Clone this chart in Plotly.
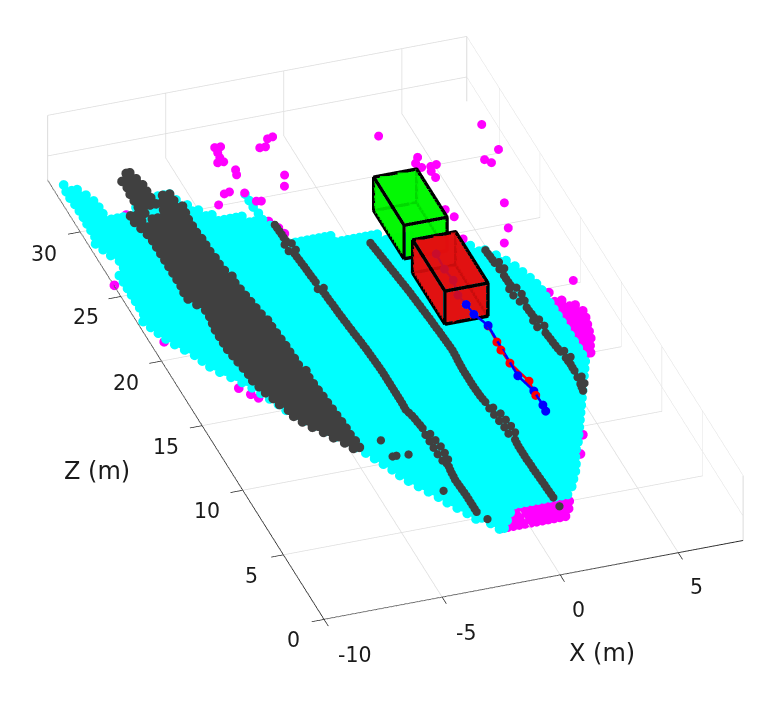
import numpy as np
import plotly.graph_objects as go

# axis limits (metres)
X_LIM = [-10.0, 7.75]
Z_LIM = [0.0, 34.0]
H_LIM = [-1.2, 2.0]
X_TICKS = [-10, -5, 0, 5]
Z_TICKS = [0, 5, 10, 15, 20, 25, 30]
H_TICKS = [0, 2]
FLOOR = -1.2

# ground cells: (Z row, [(X from, X to), ...])
CYAN_RUNS = [
 (4,[(-1.2,-1.0)]),(4.5,[(-1.4,-.7)]),(5,[(-1.85,-.4)]),(5.5,[(-2.05,2.2)]),(6,[(-2.3,2.55)]),(6.5,[(-2.55,2.8)]),
 (7,[(-2.75,3.05)]),(7.5,[(-3,3.25)]),(8,[(-3.25,3.4)]),(8.5,[(-3.5,3.6)]),(9,[(-3.7,3.85)]),(9.5,[(-3.85,4.05)]),
 (10,[(-4.05,4.25)]),(10.5,[(-4.25,4.45)]),(11,[(-4.45,4.65)]),(11.5,[(-4.7,4.85)]),(12,[(-4.95,5.05)]),(12.5,[(-5.2,5.25)]),
 (13,[(-5.5,5.45)]),(13.5,[(-5.8,5.65)]),(14,[(-6.05,5.85)]),(14.5,[(-6.25,6.05)]),(15,[(-6.45,6.1)]),(15.5,[(-6.6,6.1)]),
 (16,[(-6.8,6.1)]),(16.5,[(-7,6.1)]),(17,[(-7.2,6.1)]),(17.5,[(-7.45,6.1)]),(18,[(-7.75,6.1)]),(18.5,[(-8.05,6.1)]),
 (19,[(-8.3,6.1)]),(19.5,[(-8.45,6.1)]),(20,[(-8.6,6.1)]),(20.5,[(-8.85,6.05)]),(21,[(-9.1,5.95)]),(21.5,[(-9.3,5.8)]),
 (22,[(-9.45,5.65)]),(22.5,[(-9.6,5.45)]),(23,[(-9.75,5.2)]),(23.5,[(-9.8,4.9)]),(24,[(-9.8,4.45)]),(24.5,[(-9.8,3.9)]),
 (25,[(-9.8,3.2)]),(25.5,[(-9.8,2.4)]),(26,[(-9.8,1.2)]),(26.5,[(-9.8,-.6)]),(27,[(-9.2,-2.5)]),(27.5,[(-9.2,-2.6)]),
 (28,[(-9.4,-2.65)]),(28.5,[(-9.8,-3.1),(-2.8,-2.8)]),(29,[(-9.7,-3.5),(-2.8,-2.8)]),(29.5,[(-9.8,-4.6),(-2.85,-2.85)]),
 (30,[(-9.8,-5),(-2.85,-2.85)]),(30.5,[(-9.8,-8),(-7.7,-5.3),(-2.85,-2.85)]),(31,[(-9.8,-8.7),(-7.3,-5.6)]),
 (31.5,[(-9.8,-8.7),(-6.2,-5.7)]),(32,[(-9.8,-8.75)]),(32.5,[(-9.8,-8.9)]),(33,[(-9.8,-9.1)]),(33.5,[(-9.8,-9.5)]),
]
DARK_RUNS = [
 (11.5,[(-4.8,-4.55)]),(12,[(-5,-4.55)]),(12.5,[(-5.3,-4.6)]),(13,[(-5.55,-4.6)]),(13.5,[(-5.85,-4.62)]),(14,[(-6.1,-4.65)]),
 (14.5,[(-6.3,-4.67)]),(15,[(-6.35,-4.7)]),(15.5,[(-6.55,-4.72)]),(16,[(-6.65,-4.75)]),(16.5,[(-6.8,-4.78)]),(17,[(-6.9,-4.8)]),
 (17.5,[(-7,-4.75)]),(18,[(-7,-4.9)]),(18.5,[(-7.05,-4.9)]),(19,[(-7.1,-4.92)]),(19.5,[(-7.15,-4.92)]),(20,[(-7.2,-4.95)]),
 (20.5,[(-7.2,-4.97)]),(21,[(-7.2,-5)]),(21.5,[(-7.2,-5)]),(22,[(-7.15,-5.1)]),(22.5,[(-7.1,-5.15)]),(23,[(-7.1,-5.2)]),
 (23.5,[(-7.3,-6.6),(-6.3,-5.25)]),(24,[(-7.5,-5.3)]),(24.5,[(-7.5,-5.35)]),(25,[(-7.45,-6.4),(-6.1,-5.3)]),(25.5,[(-7.45,-5.45)]),
 (26,[(-7.45,-5.5)]),(26.5,[(-7.45,-5.5)]),(27,[(-7.45,-5.55)]),(27.5,[(-7.45,-5.55)]),(28,[(-7.45,-5.55)]),(28.5,[(-7.45,-5.6)]),
 (29,[(-7.5,-5.6)]),(29.5,[(-7.6,-7.3),(-7,-5.6)]),(30,[(-7.7,-7.4),(-6.95,-5.55)]),(30.5,[(-7.7,-7.1),(-6.3,-5.5)]),
 (31,[(-7.2,-5.7)]),(31.5,[(-7.2,-6.5),(-6,-5.7)]),(32,[(-7.2,-6.5)]),(32.5,[(-7.15,-6.5)]),(33,[(-7.2,-6.6)]),(33.5,[(-6.85,-6.7)]),
]
LANE_RUNS = [
 # lane A
 (28,[(-2.45,-2.45)]),(27.5,[(-2.43,-2.43)]),(27,[(-2.42,-2.42)]),(26.5,[(-2.55,-2.25)]),(26,[(-2.55,-2.25)]),(25.5,[(-2.38,-2.38)]),
 (25,[(-2.35,-2.35)]),(24.5,[(-2.32,-2.32)]),(24,[(-2.3,-2.3)]),(23.5,[(-2.27,-2.27)]),(23,[(-2.35,-2.1)]),(22.5,[(-2.2,-2.2)]),
 (22,[(-2.18,-2.18)]),(21.5,[(-2.15,-2.15)]),(21,[(-2.13,-2.13)]),(20.5,[(-2.1,-2.1)]),(20,[(-2.07,-2.07)]),(19.5,[(-2.04,-2.04)]),
 (19,[(-2,-2)]),(18.5,[(-1.97,-1.97)]),(18,[(-1.94,-1.94)]),(17.5,[(-1.92,-1.92)]),(17,[(-1.9,-1.9)]),(16.5,[(-1.88,-1.88)]),
 (16,[(-1.88,-1.88)]),(15.5,[(-1.88,-1.88)]),(15,[(-1.88,-1.88)]),(14.5,[(-1.88,-1.88)]),(14,[(-1.88,-1.88)]),(13.5,[(-1.9,-1.9)]),
 (13,[(-1.8,-1.8)]),(12.5,[(-1.75,-1.75)]),(12,[(-1.7,-1.7)]),(11.5,[(-1.75,-1.55)]),(11,[(-1.75,-1.5)]),(10.5,[(-1.75,-1.45)]),
 (10,[(-1.75,-1.45)]),(9.5,[(-1.72,-1.48)]),(9,[(-1.62,-1.62)]),(8.5,[(-1.67,-1.67)]),(8,[(-1.7,-1.7)]),(7.5,[(-1.68,-1.68)]),
 (7,[(-1.66,-1.66)]),(6.5,[(-1.65,-1.65)]),(6,[(-1.65,-1.65)]),(5.5,[(-1.65,-1.65)]),(4.86,[(-1.41,-1.41)]),
 # lane B
 (25.5,[(.74,.74)]),(25,[(.78,.78)]),(24.5,[(.82,.82)]),(24,[(.86,.86)]),(23.5,[(.9,.9)]),(23,[(.94,.94)]),(22.5,[(.98,.98)]),
 (22,[(1.02,1.02)]),(21.5,[(1.06,1.06)]),(21,[(1.09,1.09)]),(20.5,[(1.12,1.12)]),(20,[(1.15,1.15)]),(19.5,[(1.18,1.18)]),
 (19,[(1.2,1.2)]),(18.5,[(1.23,1.23)]),(18,[(1.25,1.25)]),(17.5,[(1.27,1.27)]),(17,[(1.29,1.29)]),(16.5,[(1.27,1.27)]),
 (16,[(1.24,1.24)]),(15.5,[(1.22,1.22)]),(15,[(1.22,1.22)]),(14.5,[(1.22,1.22)]),(14,[(1.23,1.23)]),(13.5,[(1.25,1.25)]),
 (13,[(1.3,1.3)]),(12.5,[(1.3,1.46)]),(12,[(1.33,1.6)]),(11.5,[(1.37,1.65)]),(11,[(1.42,1.7)]),(10.5,[(1.42,1.7)]),(10,[(1.53,1.53)]),
 (9.5,[(1.5,1.5)]),(9,[(1.5,1.5)]),(8.5,[(1.5,1.5)]),(8,[(1.52,1.52)]),(7.5,[(1.53,1.53)]),(7,[(1.55,1.55)]),(6.5,[(1.57,1.57)]),
 (6,[(1.58,1.58)]),(5.5,[(1.6,1.6)]),(4.81,[(1.62,1.62)]),
 # lane C
 (23.5,[(4.92,4.92)]),(23,[(4.95,4.95)]),(22.5,[(4.97,5.15)]),(22,[(5,5.2)]),(21.5,[(5.02,5.02)]),(21,[(5.03,5.03)]),(20.5,[(4.9,5.2)]),
 (20,[(4.9,5.25)]),(19.5,[(5,5.2)]),(19,[(5.12,5.12)]),(18.5,[(5.15,5.15)]),(18,[(5.05,5.3)]),(17.5,[(5.05,5.35)]),(17,[(5.23,5.23)]),
 (16.5,[(5.27,5.27)]),(16,[(5.3,5.3)]),(15.5,[(5.35,5.5)]),(15,[(5.4,5.6)]),(14.5,[(5.43,5.43)]),(14,[(5.42,5.42)]),(13.5,[(5.38,5.55)]),
 (13,[(5.33,5.5)]),(12.5,[(5.27,5.27)]),
 # isolated returns
 (11.7,[(-3.57,-3.57)]),(10.43,[(-3.51,-3.35)]),(10.36,[(-2.86,-2.86)]),(7.39,[(-2.4,-2.4)]),
]
# further lane returns lying between those rows
LANE_MID_Z = [27.75,27.25,26.75,25.75,25.25,24.75,24.25,23.75,22.75,22.25,21.75,21.25,20.75,20.25,19.75,19.25,18.75,18.25,17.75,17.25,16.75,16.25,15.75,15.25,14.75,14.25,13.75,13.25,12.75,12.25,9.25,8.75,8.25,7.75,7.25,6.75,6.25,5.75,
              25.25,24.75,24.25,23.75,23.25,22.75,22.25,21.75,21.25,20.75,20.25,19.75,19.25,18.75,18.25,17.75,17.25,16.75,16.25,15.75,15.25,14.75,14.25,13.75,13.25,9.75,9.25,8.75,8.25,7.75,7.25,6.75,6.25,5.75,
              23.25,22.75,21.25,20.75,18.75,18.25,16.75,16.25,15.75,14.75,14.25,12.75]
LANE_MID_X = [-2.44,-2.42,-2.41,-2.39,-2.36,-2.33,-2.31,-2.28,-2.21,-2.19,-2.16,-2.14,-2.11,-2.08,-2.05,-2.02,-1.98,-1.95,-1.93,-1.91,-1.89,-1.88,-1.88,-1.88,-1.88,-1.88,-1.89,-1.85,-1.77,-1.72,-1.63,-1.65,-1.68,-1.69,-1.67,-1.65,-1.65,-1.65,
              .76,.8,.84,.88,.92,.96,1,1.04,1.07,1.1,1.13,1.16,1.19,1.21,1.24,1.26,1.28,1.28,1.25,1.23,1.22,1.22,1.22,1.24,1.27,1.51,1.5,1.5,1.51,1.52,1.54,1.56,1.57,1.59,
              4.93,4.96,5.02,5.04,5.13,5.16,5.25,5.28,5.32,5.41,5.42,5.3]
MAGENTA_RUNS = [
 (4,[(-1.1,1.6)]),(4.5,[(-.7,1.9)]),(5,[(-.35,2.1)]),
 (19.7,[(6.3,6.3)]),(19,[(6.3,6.6)]),(18.5,[(6.3,7.0)]),(18,[(6.3,7.15)]),(17.5,[(6.3,7.1)]),(17,[(6.3,7.0)]),
 (16.5,[(6.3,6.9)]),(16,[(6.3,6.8)]),(15.5,[(6.3,6.6)]),(15,[(6.3,6.45)]),
 (21.31,[(-9.44,-9.44)]),(17.13,[(-7.72,-7.72)]),(16.55,[(-7.41,-7.41)]),(16.2,[(-7.2,-7.2)]),(25.87,[(-9.98,-9.98)]),
 (9.42,[(4.2,4.2)]),(8.12,[(3.65,3.65)]),(30.58,[(-7.85,-7.85)]),(28.28,[(-2.62,-2.62)]),(27.7,[(-2.4,-2.4)]),(27.23,[(-2.31,-2.31)]),
]
# raised returns, one metre above ground
RAISED_X = [7.28,3.1,7.32,6.55,6.74,4.07,3.85,3.98,4.35,4.61,4.25,4.27,6.27,-.93,-1.17,-1.44,-1.68,-3.38,-3.14,-3.39,-3.43,-3.38,-3.63,
            -3.12,-3.2,-1.39,-1.66,-3.88,-4.12,-3.33,-4.6,-3.08,-2.89,4.04,3.87,5.82,5.31,7.03,3.85]
RAISED_Z = [30.81,31.35,28.86,28.34,28.04,29.37,28.98,28.62,28.57,28.63,28.22,27.74,25.09,32.68,32.61,32.08,32.09,32.69,32.67,32.3,31.92,31.59,31.6,
            30.88,30.52,29.88,29.11,29.43,29.36,29.16,28.67,28.44,28.38,24.78,25.39,23.3,22.31,18.82,23.13]
# tracks
BLUE_X = [2.59,2.54,2.61,2.43,2.52,2.58,2.85,2.78,3.02,3.03,2.99]
BLUE_Z = [22.79,21.63,20.75,19.65,18.9,18.12,17.16,13.29,12.03,10.94,10.48]
RED_X = [2.85,2.8,2.76,2.79,3.08,3.0]
RED_Z = [17.16,15.93,15.32,14.3,12.8,11.73]
TRACK_H = -0.43
# boxes: X from/to, Z from/to, height
GREEN_BOX = (1.64, 3.46, 23.97, 27.7, 1.65)
RED_BOX = (1.63, 3.45, 18.91, 22.88, 1.63)

GRID = "#dcdcdc"
INK = "#1a1a1a"
STEP = 0.25
RAY = (-0.2725, -0.7914, 0.547)
EYE_DIST = 4.0
MS = 5.6


def layered(xs, zs, hs, t):
    """Slide points along the line of sight: same place on screen, only the stacking changes."""
    return ([None if v is None else v + RAY[0] * t for v in xs],
            [None if v is None else v + RAY[1] * t for v in zs],
            [None if v is None else v + RAY[2] * t for v in hs])


def expand(runs):
    xs, zs = [], []
    for z, spans in runs:
        for a, b in spans:
            n = int(round((b - a) / STEP)) + 1
            for v in np.linspace(a, b, n):
                xs.append(float(v))
                zs.append(z)
    return xs, zs


fig = go.Figure()


def ground_points(xs, zs, color, t, size):
    a, b, c = layered(xs, zs, [FLOOR] * len(xs), t)
    fig.add_trace(go.Scatter3d(x=a, y=b, z=c, mode="markers",
                               marker=dict(size=size, color=color, line=dict(width=0), opacity=1),
                               hoverinfo="skip"))


xs_, zs_ = expand(MAGENTA_RUNS)
ground_points(xs_, zs_, "#ff00ff", 0.02, MS)
xs_, zs_ = expand(CYAN_RUNS)
ground_points(xs_, zs_, "#00ffff", 0.8, MS)
xs_, zs_ = expand(DARK_RUNS)
ground_points(xs_, zs_, "#404040", 1.6, MS)
xs_, zs_ = expand(LANE_RUNS)
ground_points(xs_ + LANE_MID_X, zs_ + LANE_MID_Z, "#404040", 1.6, 4.8)
fig.add_trace(go.Scatter3d(x=RAISED_X, y=RAISED_Z, z=[FLOOR + 1] * len(RAISED_X), mode="markers",
                           marker=dict(size=5.2, color="#ff00ff", line=dict(width=0)), hoverinfo="skip"))

T_OBJ = 2.2


def box(spec, color):
    x0, x1, z0, z1, h = spec
    b, t = FLOOR, FLOOR + h
    vx = [x0, x1, x1, x0, x0, x1, x1, x0]
    vy = [z0, z0, z1, z1, z0, z0, z1, z1]
    vz = [b, b, b, b, t, t, t, t]
    vx, vy, vz = layered(vx, vy, vz, T_OBJ)
    i = [0, 0, 4, 4, 0, 0, 1, 1, 2, 2, 3, 3]
    j = [1, 2, 5, 6, 1, 5, 2, 6, 3, 7, 0, 4]
    k = [2, 3, 6, 7, 5, 4, 6, 5, 7, 6, 4, 7]
    fig.add_trace(go.Mesh3d(x=vx, y=vy, z=vz, i=i, j=j, k=k, color=color, opacity=0.88, flatshading=True,
                            lighting=dict(ambient=1, diffuse=0, specular=0, roughness=1, fresnel=0),
                            hoverinfo="skip"))
    path = [0, 1, 2, 3, 0, 4, 5, 6, 7, 4, None, 1, 5, None, 2, 6, None, 3, 7]
    fig.add_trace(go.Scatter3d(x=[None if p is None else vx[p] for p in path],
                               y=[None if p is None else vy[p] for p in path],
                               z=[None if p is None else vz[p] for p in path],
                               mode="lines", line=dict(color="#000000", width=7), hoverinfo="skip"))


for xs, zs, color, dh in ((RED_X, RED_Z, "#ff0000", 0.0), (BLUE_X, BLUE_Z, "#0000ff", 0.02)):
    a, b, c = layered(xs, zs, [TRACK_H + dh] * len(xs), T_OBJ)
    fig.add_trace(go.Scatter3d(x=a, y=b, z=c, mode="lines+markers",
                               line=dict(color=color, width=5),
                               marker=dict(size=5.2, color=color, line=dict(width=0)), hoverinfo="skip"))
box(GREEN_BOX, "#00f800")
box(RED_BOX, "#e40e0e")

# wall corners
fig.add_trace(go.Scatter3d(x=[X_LIM[0], X_LIM[0], None, X_LIM[1], X_LIM[1], None, X_LIM[1], X_LIM[1]],
                           y=[Z_LIM[1], Z_LIM[1], None, Z_LIM[1], Z_LIM[1], None, Z_LIM[0], Z_LIM[0]],
                           z=[H_LIM[0], H_LIM[1], None, H_LIM[0], H_LIM[1], None, H_LIM[0], H_LIM[1]],
                           mode="lines", line=dict(color=GRID, width=2), hoverinfo="skip"))

# label anchors sit a hair inside the limits so rounding cannot hide them
NEAR_X = X_LIM[0] + 0.005
NEAR_Z = Z_LIM[0] + 0.005
NEAR_H = FLOOR + 0.005
notes = []
for v, xs, ys in zip(X_TICKS, [30, 24, 18, 18], [-36, -36, -35.5, -34]):
    notes.append(dict(x=max(v, NEAR_X), y=NEAR_Z, z=NEAR_H, text=str(v), showarrow=False, xshift=xs, yshift=ys,
                      font=dict(family="DejaVu Sans", size=20.5, color=INK)))
for v, xs, ys in zip(Z_TICKS, [-31, -32, -36, -36, -36, -35, -37], [-21, -21, -21, -21, -22, -21, -22]):
    notes.append(dict(x=NEAR_X, y=max(v, NEAR_Z), z=NEAR_H, text=str(v), showarrow=False, xshift=xs, yshift=ys,
                      font=dict(family="DejaVu Sans", size=20.5, color=INK)))
notes.append(dict(x=NEAR_X, y=14, z=NEAR_H, text="Z (m)", showarrow=False, xshift=-113.5, yshift=-33,
                  font=dict(family="DejaVu Sans", size=24, color=INK)))
notes.append(dict(x=0, y=NEAR_Z, z=NEAR_H, text="X (m)", showarrow=False, xshift=42, yshift=-78,
                  font=dict(family="DejaVu Sans", size=24, color=INK)))


def axis(rng, vals, line, ticks):
    return dict(range=rng, tickmode="array", tickvals=vals, showticklabels=False, title=dict(text=""),
                showgrid=True, gridcolor=GRID, gridwidth=1.5, zeroline=False, showbackground=False,
                showline=line, linecolor=INK, linewidth=1.8, ticks=ticks, ticklen=13, tickwidth=1.5, tickcolor=INK,
                showspikes=False, autorange=False)


asp = 2.565 / 34
SHIFT = (0.0142, -0.0243, -0.02805)
fig.update_layout(
    width=764, height=709, showlegend=False, paper_bgcolor="white",
    margin=dict(l=0, r=0, t=0, b=0),
    scene=dict(
        domain=dict(x=[0.033, 1], y=[0.0663, 1]),
        xaxis=axis(X_LIM, X_TICKS, True, "outside"),
        yaxis=axis(Z_LIM, Z_TICKS, True, "outside"),
        zaxis=axis(H_LIM, H_TICKS, False, ""),
        aspectmode="manual",
        aspectratio=dict(x=17.75 * asp, y=34 * asp, z=3.2 * asp * 0.97),
        camera=dict(projection=dict(type="orthographic"), up=dict(x=0, y=0, z=1),
                    center=dict(x=SHIFT[0], y=SHIFT[1], z=SHIFT[2]),
                    eye=dict(x=RAY[0] * EYE_DIST + SHIFT[0], y=RAY[1] * EYE_DIST + SHIFT[1], z=RAY[2] * EYE_DIST + SHIFT[2])),
        annotations=notes,
    ),
)
fig.write_html("out.html")
